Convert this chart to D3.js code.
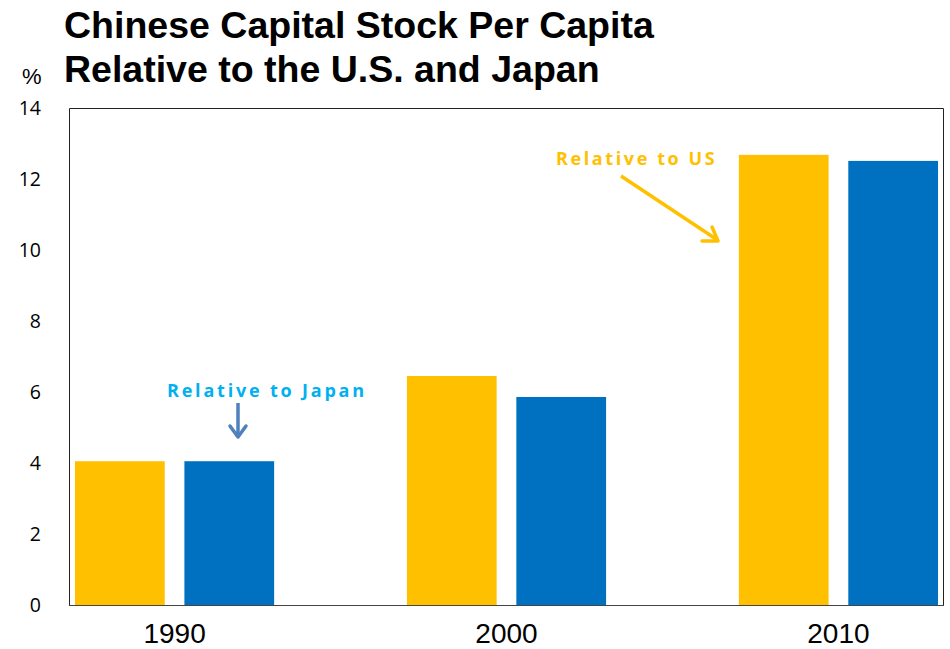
<!DOCTYPE html>
<html>
<head>
<meta charset="utf-8">
<script src="https://cdn.jsdelivr.net/npm/d3@7"></script>
<style>
  html, body { margin: 0; padding: 0; background: #fff; }
  svg { display: block; }
</style>
</head>
<body>
<svg id="chart" width="950" height="649"></svg>
<script>
// Capital stock per capita of China, % of the other country
const years = ["1990", "2000", "2010"];
const seriesNames = ["Relative to US", "Relative to Japan"];
const relativeToUS = [4.05, 6.45, 12.68];
const relativeToJapan = [4.05, 5.86, 12.51];
const yTicks = [0, 2, 4, 6, 8, 10, 12, 14];
const seriesColors = ["#FFC000", "#0070C0"];

const svg = d3.select("#chart");
const margin = { left: 69, right: 6, top: 108, bottom: 44 };
const W = 950, H = 649;

const x0 = d3.scaleBand().domain(years)
  .range([margin.left, W - margin.right])
  .paddingInner(0.4).paddingOuter(0.018);
const x1 = d3.scaleBand().domain(seriesNames)
  .range([0, x0.bandwidth()]).paddingInner(0.18);
const y = d3.scaleLinear().domain([0, 14]).range([H - margin.bottom, margin.top]);

// Title
const title = svg.append("text")
  .attr("font-family", "Liberation Sans, Arial, sans-serif")
  .attr("font-weight", "bold").attr("font-size", 37.5).attr("fill", "#000");
title.append("tspan").attr("x", 64).attr("y", 38).text("Chinese Capital Stock Per Capita");
title.append("tspan").attr("x", 64).attr("y", 82).text("Relative to the U.S. and Japan");

// Unit label
svg.append("text").attr("x", 22).attr("y", 84)
  .attr("font-family", "Liberation Sans, Arial, sans-serif")
  .attr("font-size", 22).attr("fill", "#000").text("%");

// Bars
const rows = years.map((yr, i) => ({ year: yr, values: [relativeToUS[i], relativeToJapan[i]] }));
const groups = svg.append("g").selectAll("g").data(rows).join("g")
  .attr("transform", d => `translate(${x0(d.year)},0)`);
groups.selectAll("rect")
  .data(d => d.values.map((v, j) => ({ name: seriesNames[j], value: v, color: seriesColors[j] })))
  .join("rect")
  .attr("x", d => x1(d.name))
  .attr("width", x1.bandwidth())
  .attr("y", d => y(d.value))
  .attr("height", d => y(0) - y(d.value))
  .attr("fill", d => d.color);

// Plot frame (left, top, right) and base axis
const frame = svg.append("g").attr("fill", "none").attr("stroke-width", 1);
frame.append("path")
  .attr("d", `M${margin.left + 0.5},${y(0)}V${y(14) + 0.5}H${W - margin.right - 0.5}V${y(0)}`)
  .attr("stroke", "#222");
frame.append("line")
  .attr("x1", margin.left).attr("x2", W - margin.right)
  .attr("y1", y(0) + 0.5).attr("y2", y(0) + 0.5).attr("stroke", "#444");

// Y axis labels
const yAxis = d3.axisLeft(y).tickValues(yTicks).tickSize(0).tickPadding(28);
const yg = svg.append("g").attr("transform", `translate(${margin.left},0)`).call(yAxis);
yg.select(".domain").remove();
yg.selectAll("text")
  .attr("font-family", "Open Sans, Noto Sans, sans-serif")
  .attr("font-size", 19.5).attr("fill", "#000");

// X axis labels
const xAxis = d3.axisBottom(x0).tickSize(0).tickPadding(18);
const xg = svg.append("g").attr("transform", `translate(0,${y(0)})`).call(xAxis);
xg.select(".domain").remove();
xg.selectAll("text")
  .attr("font-family", "Liberation Sans, Arial, sans-serif")
  .attr("font-size", 28).attr("fill", "#000");

// Annotations
svg.append("text").attr("x", 556).attr("y", 165)
  .attr("font-family", "Open Sans, Noto Sans, sans-serif")
  .attr("font-weight", "bold").attr("font-size", 18).attr("letter-spacing", 2.6)
  .attr("fill", "#FFC000").text("Relative to US");
svg.append("line").attr("x1", 621).attr("y1", 176).attr("x2", 716).attr("y2", 239)
  .attr("stroke", "#FFC000").attr("stroke-width", 3.5);
svg.append("path").attr("d", "M712,227 L718,241 L702,241")
  .attr("fill", "none").attr("stroke", "#FFC000").attr("stroke-width", 3.5)
  .attr("stroke-linecap", "round").attr("stroke-linejoin", "round");

svg.append("text").attr("x", 167).attr("y", 397)
  .attr("font-family", "Open Sans, Noto Sans, sans-serif")
  .attr("font-weight", "bold").attr("font-size", 18).attr("letter-spacing", 2.8)
  .attr("fill", "#00B0F0").text("Relative to Japan");
svg.append("line").attr("x1", 238).attr("y1", 403).attr("x2", 238).attr("y2", 437)
  .attr("stroke", "#4F81BD").attr("stroke-width", 3.5);
svg.append("path").attr("d", "M230,426 L238,437 L246,426")
  .attr("fill", "none").attr("stroke", "#4F81BD").attr("stroke-width", 3.5)
  .attr("stroke-linecap", "round").attr("stroke-linejoin", "round");
</script>
</body>
</html>
